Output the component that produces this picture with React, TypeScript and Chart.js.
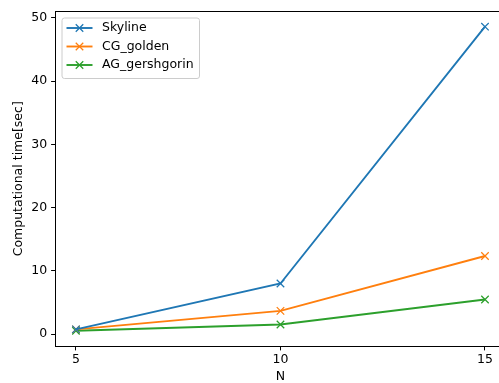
import React, { useEffect, useRef } from "react";
import { Chart, registerables } from "chart.js";

Chart.register(...registerables);

const nValues = [5, 10, 15];
const skyline = [0.74, 8.0, 48.6];
const cgGolden = [0.75, 3.68, 12.35];
const agGershgorin = [0.52, 1.52, 5.48];
const seriesNames = ["Skyline", "CG_golden", "AG_gershgorin"];
const seriesColors = ["#1f77b4", "#ff7f0e", "#2ca02c"];
const xTicks = [5, 10, 15];
const yTicks = [0, 10, 20, 30, 40, 50];
const xLabel = "N";
const yLabel = "Computational time[sec]";

const FONT = "DejaVu Sans";
const FS = 12.5;

const framePlugin = {
  id: "mplFrame",
  afterDatasetsDraw(chart: any) {
    const { ctx, chartArea } = chart;
    ctx.save();
    ctx.strokeStyle = "#000";
    ctx.lineWidth = 1;
    ctx.beginPath();
    ctx.moveTo(Math.round(chartArea.left) - 0.5, Math.round(chartArea.top) - 0.5);
    ctx.lineTo(Math.round(chartArea.right) + 0.5, Math.round(chartArea.top) - 0.5);
    ctx.lineTo(Math.round(chartArea.right) + 0.5, Math.round(chartArea.bottom) + 0.5);
    ctx.stroke();
    ctx.restore();
  },
};

const legendPlugin = {
  id: "mplLegend",
  afterDraw(chart: any) {
    const { ctx, chartArea } = chart;
    const x0 = chartArea.left + 6.5;
    const y0 = chartArea.top + 6.5;
    const w = 137.5;
    const h = 60.5;
    ctx.save();
    ctx.beginPath();
    if (ctx.roundRect) ctx.roundRect(x0, y0, w, h, 2.5);
    else ctx.rect(x0, y0, w, h);
    ctx.fillStyle = "rgba(255,255,255,0.8)";
    ctx.fill();
    ctx.strokeStyle = "#cccccc";
    ctx.lineWidth = 1;
    ctx.stroke();
    chart.data.datasets.forEach((ds: any, i: number) => {
      const y = y0 + 10 + i * 18.5;
      const lx0 = x0 + 4.5;
      const lx1 = x0 + 30.5;
      ctx.strokeStyle = ds.borderColor;
      ctx.lineWidth = 1.9;
      ctx.beginPath();
      ctx.moveTo(lx0, y);
      ctx.lineTo(lx1, y);
      ctx.stroke();
      const cx = (lx0 + lx1) / 2;
      const m = 3.75;
      ctx.lineWidth = 1.25;
      ctx.beginPath();
      ctx.moveTo(cx - m, y - m);
      ctx.lineTo(cx + m, y + m);
      ctx.moveTo(cx - m, y + m);
      ctx.lineTo(cx + m, y - m);
      ctx.stroke();
      ctx.fillStyle = "#000";
      ctx.font = `${FS}px "${FONT}"`;
      ctx.textBaseline = "middle";
      ctx.textAlign = "left";
      ctx.fillText(ds.label, x0 + 40, y);
    });
    ctx.restore();
  },
};

export default function App() {
  const canvasRef = useRef<HTMLCanvasElement | null>(null);

  useEffect(() => {
    const canvas = canvasRef.current;
    if (!canvas) return;
    const seriesData = [skyline, cgGolden, agGershgorin];
    const chart = new Chart(canvas, {
      type: "line",
      data: {
        datasets: seriesData.map((vals, i) => ({
          label: seriesNames[i],
          data: nValues.map((n, j) => ({ x: n, y: vals[j] })),
          borderColor: seriesColors[i],
          backgroundColor: seriesColors[i],
          borderWidth: 1.9,
          pointStyle: "crossRot",
          pointRadius: 5.3,
          pointBorderWidth: 1.25,
          pointBorderColor: seriesColors[i],
          fill: false,
          tension: 0,
        })),
      },
      options: {
        animation: false,
        responsive: false,
        devicePixelRatio: 1,
        layout: { padding: { top: 9.3, right: 5.2, left: 0, bottom: 0 } },
        plugins: {
          legend: { display: false },
          tooltip: { enabled: false },
        },
        scales: {
          x: {
            type: "linear",
            min: 4.5,
            max: 15.5,
            afterBuildTicks: (scale: any) => {
              scale.ticks = xTicks.map((v) => ({ value: v }));
            },
            afterFit: (scale: any) => {
              scale.height = 37;
            },
            ticks: {
              color: "#000",
              font: { family: FONT, size: FS },
              padding: 2,
              maxRotation: 0,
              callback: (v: any) => String(v),
            },
            grid: {
              display: true,
              drawOnChartArea: false,
              drawTicks: true,
              tickLength: 4.4,
              color: "#000",
              tickWidth: 1,
            },
            border: { display: true, color: "#000", width: 1 },
            title: {
              display: true,
              text: xLabel,
              color: "#000",
              font: { family: FONT, size: FS },
              padding: { top: 0, bottom: -1 },
            },
          },
          y: {
            type: "linear",
            min: -1.88,
            max: 51.0,
            afterBuildTicks: (scale: any) => {
              scale.ticks = yTicks.map((v) => ({ value: v }));
            },
            afterFit: (scale: any) => {
              scale.width = 55.5;
            },
            ticks: {
              color: "#000",
              font: { family: FONT, size: FS },
              padding: 4,
              callback: (v: any) => String(v),
            },
            grid: {
              display: true,
              drawOnChartArea: false,
              drawTicks: true,
              tickLength: 4.4,
              color: "#000",
              tickWidth: 1,
            },
            border: { display: true, color: "#000", width: 1 },
            title: {
              display: true,
              text: yLabel,
              color: "#000",
              font: { family: FONT, size: FS },
              padding: { top: 10.8, bottom: 0 },
            },
          },
        },
      },
      plugins: [framePlugin, legendPlugin],
    });
    return () => chart.destroy();
  }, []);

  return (
    <div
      style={{
        position: "fixed",
        left: 0,
        top: 0,
        width: 499,
        height: 383,
        overflow: "hidden",
        background: "#fff",
      }}
    >
      <canvas ref={canvasRef} width={512} height={383} style={{ display: "block" }} />
    </div>
  );
}
